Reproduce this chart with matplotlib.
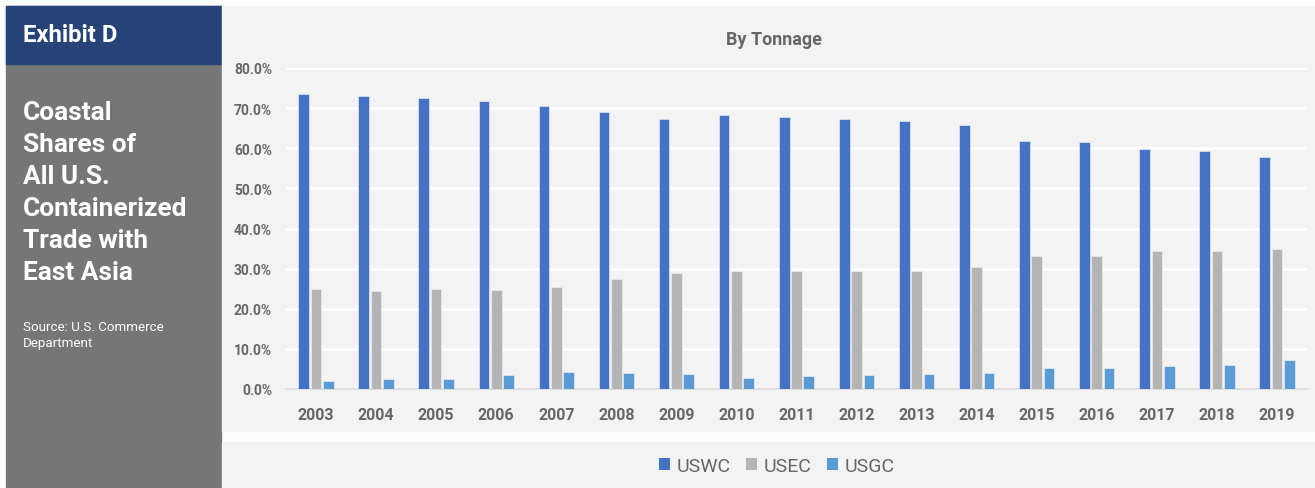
import matplotlib.pyplot as plt
from matplotlib.patches import Rectangle
from matplotlib.ticker import FuncFormatter
import numpy as np

plt.rcParams['font.family'] = ['Roboto', 'DejaVu Sans']

# coastal shares of containerized trade with East Asia, by tonnage (%)
years = ['2003', '2004', '2005', '2006', '2007', '2008', '2009', '2010', '2011',
         '2012', '2013', '2014', '2015', '2016', '2017', '2018', '2019']
uswc = [73.4, 73.0, 72.6, 71.8, 70.5, 69.0, 67.4, 68.2, 67.7, 67.2, 66.7, 65.8,
        61.7, 61.6, 59.8, 59.4, 57.8]
usec = [24.9, 24.5, 24.9, 24.7, 25.4, 27.3, 28.8, 29.4, 29.4, 29.4, 29.5, 30.3,
        33.1, 33.1, 34.4, 34.3, 34.8]
usgc = [2.0, 2.5, 2.5, 3.6, 4.2, 3.9, 3.7, 2.7, 3.2, 3.6, 3.7, 4.0,
        5.2, 5.2, 5.7, 6.1, 7.3]
series_names = ['USWC', 'USEC', 'USGC']
colors = ['#4472C4', '#B4B4B4', '#5B9BD5']
text_gray = '#666666'

W, H = 1315, 489
fig = plt.figure(figsize=(W / 100, H / 100), dpi=100, facecolor='white')

def px_rect(x0, y0, x1, y1, color):
    # rectangle given in pixel coords measured from the top-left corner
    fig.patches.append(Rectangle((x0 / W, 1 - y1 / H), (x1 - x0) / W, (y1 - y0) / H,
                                 transform=fig.transFigure, color=color, zorder=-5))

# side panel
px_rect(6, 7, 221, 488, '#767676')
px_rect(6, 7, 221, 65, '#264478')
# chart and legend backgrounds
px_rect(222, 7, W, 432, '#F3F3F3')
px_rect(222, 443, W, H, '#F3F3F3')

fig.text(23 / W, 1 - 36 / H, 'Exhibit D', color='white', fontsize=17.2,
         fontweight='bold', va='center', ha='left')
heading = ['Coastal', 'Shares of', 'All U.S.', 'Containerized', 'Trade with', 'East Asia']
for i, line in enumerate(heading):
    fig.text(23 / W, 1 - (113 + 32 * i) / H, line, color='white', fontsize=18.9,
             fontweight='bold', va='center', ha='left')
fig.text(23 / W, 1 - 328 / H, 'Source: U.S. Commerce', color='white', fontsize=9.6,
         va='center', ha='left')
fig.text(23 / W, 1 - 344 / H, 'Department', color='white', fontsize=9.6,
         va='center', ha='left')

fig.text(774 / W, 1 - 40 / H, 'By Tonnage', color=text_gray, fontsize=12.9,
         fontweight='bold', va='center', ha='center')

ax = fig.add_axes([286 / W, 1 - 390 / H, (1307 - 286) / W, (390 - 69) / H])
ax.patch.set_visible(False)

x = np.arange(len(years))
offset = 0.205
width = 0.178
for k, (vals, name, c) in enumerate(zip([uswc, usec, usgc], series_names, colors)):
    ax.bar(x + (k - 1) * offset, vals, width=width, color=c, label=name,
           edgecolor='#F3F3F3', linewidth=0.4, zorder=3)

ax.set_xlim(-0.5, len(years) - 0.5)
ax.set_ylim(0, 80)
ax.set_yticks(np.arange(0, 81, 10))
ax.yaxis.set_major_formatter(FuncFormatter(lambda v, _: f'{v:.1f}%'))
ax.set_xticks(x)
ax.set_xticklabels(years)
ax.grid(axis='y', color='white', linewidth=2, zorder=1)
ax.set_axisbelow(True)
for s in ['top', 'right', 'left']:
    ax.spines[s].set_visible(False)
ax.spines['bottom'].set_color('#D9D9D9')
ax.spines['bottom'].set_linewidth(1.2)
ax.tick_params(axis='both', length=0, colors=text_gray)
ax.tick_params(axis='y', pad=10, labelsize=10)
ax.tick_params(axis='x', pad=13, labelsize=11.5)
for lbl in ax.get_xticklabels() + ax.get_yticklabels():
    lbl.set_fontweight('bold')

leg = fig.legend(loc='center', bbox_to_anchor=(777 / W, 1 - 467 / H), ncol=3,
                 frameon=False, fontsize=14, handlelength=0.55, handleheight=0.55,
                 handletextpad=0.35, columnspacing=0.8, labelcolor=text_gray)
for h in leg.legend_handles:
    h.set_edgecolor('none')

fig.savefig('out.png', dpi=100, facecolor='white')
